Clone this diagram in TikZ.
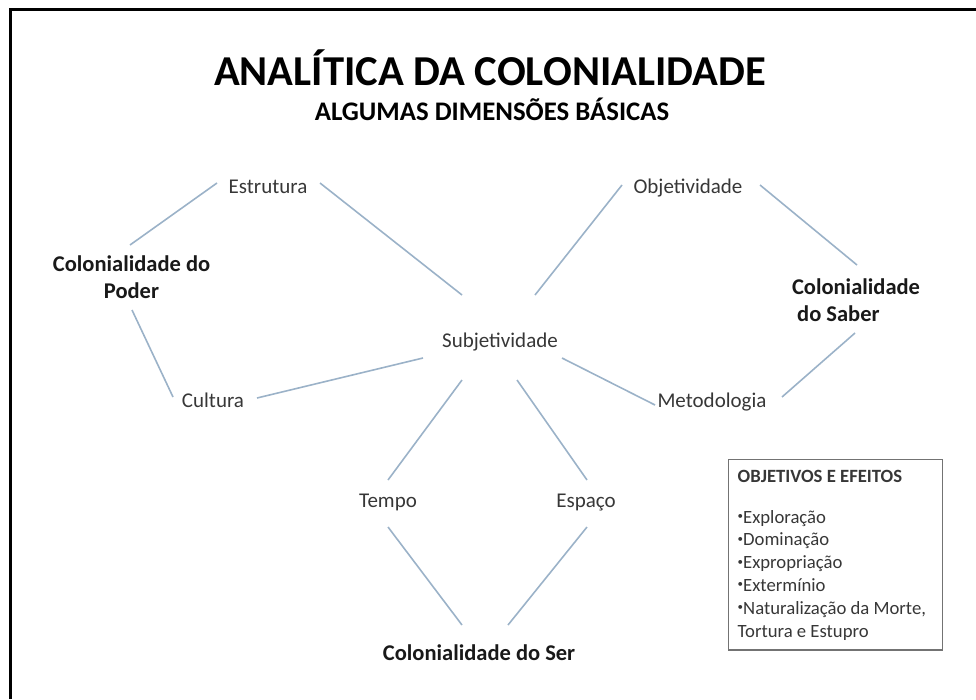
\documentclass[tikz,border=0pt]{standalone}
\usepackage{fontspec}
\setmainfont{Carlito}
\usetikzlibrary{calc}
\definecolor{linkblue}{RGB}{155,178,200}
\definecolor{textgray}{RGB}{55,55,55}
\newcommand{\objdot}{\raisebox{3.5pt}{\fontsize{11}{11}\selectfont•}}

\begin{document}
\begin{tikzpicture}[x=1pt, y=-1pt,
    aspect/.style={inner sep=0pt, anchor=base, text=textgray, font=\fontsize{21}{25}\selectfont},
    colon/.style={inner sep=0pt, anchor=base, text=black!90, font=\bfseries\fontsize{22.5}{27}\selectfont},
    link/.style={draw=linkblue, line width=1.6pt},
    objbox/.style={draw=black!55, line width=1.4pt, text=textgray, inner xsep=9pt, inner ysep=10pt,
      text width=196pt, align=flush left, anchor=base west, font=\fontsize{18.7}{22.8}\selectfont}]
  \useasboundingbox (0,0) rectangle (976,699);
  \draw[line width=3pt] (10,699) |- (976,9);

  \node[anchor=base, font=\bfseries\fontsize{42.6}{50}\selectfont] (title) at (490,85) {ANALÍTICA DA COLONIALIDADE};
  \node[anchor=base, font=\bfseries\fontsize{26.8}{32}\selectfont] (subtitle) at (492,120) {ALGUMAS DIMENSÕES BÁSICAS};

  \node[colon, text width=160pt, align=flush center] (poder) at (131.5,271) {Colonialidade do\\Poder};
  \node[colon, text width=130pt, align=flush left] (saber) at (857,294) {Colonialidade\\\hspace{0.23em}do Saber};
  \node[colon] (ser) at (479,660) {Colonialidade do Ser};

  \node[aspect] (estr) at (268,193) {Estrutura};
  \node[aspect] (cult) at (213,407) {Cultura};
  \node[aspect] (subj) at (500,347) {Subjetividade};
  \node[aspect] (objet) at (688,193) {Objetividade};
  \node[aspect] (metod) at (712,407) {Metodologia};
  \node[aspect] (tempo) at (388,507) {Tempo};
  \node[aspect] (espaco) at (586,507) {Espaço};

  \draw[link] ($(poder.base)+(-1.5,-26)$) -- ($(estr.base)+(-51,-10)$);
  \draw[link] ($(estr.base)+(52,-10)$) -- ($(subj.base)+(-38,-52)$);
  \draw[link] ($(poder.base)+(0.5,39)$) -- ($(cult.base)+(-40,-10)$);
  \draw[link] ($(cult.base)+(44,-9)$) -- ($(subj.base)+(-77,11)$);
  \draw[link] ($(subj.base)+(-38,33)$) -- ($(tempo.base)+(0,-27)$);
  \draw[link] ($(subj.base)+(17,33)$) -- ($(espaco.base)+(1,-27)$);
  \draw[link] ($(tempo.base)+(0,20)$) -- ($(ser.base)+(-17,-35)$);
  \draw[link] ($(espaco.base)+(1,20)$) -- ($(ser.base)+(29,-35)$);
  \draw[link] ($(subj.base)+(62,11)$) -- ($(metod.base)+(-57,-2)$);
  \draw[link] ($(subj.base)+(35,-52)$) -- ($(objet.base)+(-66,-8)$);
  \draw[link] ($(objet.base)+(72,-8)$) -- ($(saber.base)+(0,-29)$);
  \draw[link] ($(metod.base)+(70,-10)$) -- ($(saber.base)+(-2,39)$);

  \node[objbox] (obj) at (728,482) {\textbf{OBJETIVOS E EFEITOS}\\[18.2pt]\objdot Exploração\\\objdot Dominação\\\objdot Expropriação\\\objdot Extermínio\\\mbox{\objdot Naturalização da Morte,}\\Tortura e Estupro};
\end{tikzpicture}
\end{document}
